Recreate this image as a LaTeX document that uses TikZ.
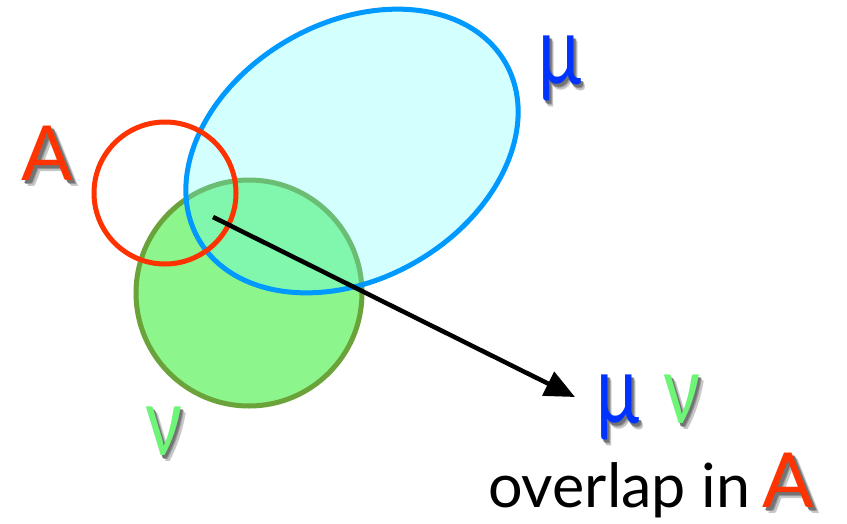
\documentclass[tikz,border=0pt]{standalone}
\usepackage{fontspec}
\setmainfont{Lato}
\usetikzlibrary{arrows.meta}
\definecolor{redA}{RGB}{255,51,0}
\definecolor{blueE}{RGB}{0,153,255}
\definecolor{cyanF}{RGB}{105,255,255}
\definecolor{greenF}{RGB}{140,245,140}
\definecolor{greenS}{RGB}{107,163,59}
\definecolor{muBlue}{RGB}{0,51,255}
\definecolor{nuGreen}{RGB}{110,245,120}
\tikzset{
  lbl/.style={inner sep=0pt, anchor=base},
  bigA/.style={font=\fontsize{76}{80}\selectfont},
  greek/.style={font=\fontsize{96}{100}\selectfont, xscale=0.75},
  plain/.style={font=\fontsize{61}{64}\selectfont, inner sep=0pt, anchor=base west},
}
\newcommand\shtxt[2]{%
  \rlap{\kern6pt\raisebox{-6pt}{\textcolor{black!22}{#2}}}%
  \rlap{\kern4.5pt\raisebox{-4.5pt}{\textcolor{black!40}{#2}}}%
  \rlap{\kern3pt\raisebox{-3pt}{\textcolor{black!55}{#2}}}%
  \textcolor{#1}{#2}}
\begin{document}
\begin{tikzpicture}[x=1pt,y=-1pt]
\useasboundingbox (0,0) rectangle (847,523);
\fill[white] (0,0) rectangle (847,523);
% nu circle
\draw[line width=5pt, draw=greenS, fill=greenF] (249,293) circle[radius=113pt];
% mu ellipse
\fill[cyanF, fill opacity=0.29, rotate around={30:(352,151)}] (352,151) ellipse[x radius=177pt, y radius=128pt];
\draw[line width=5pt, draw=blueE, rotate around={30:(352,151)}] (352,151) ellipse[x radius=177pt, y radius=128pt];
% A circle
\draw[line width=5pt, draw=redA] (165,193) circle[radius=71pt];
% arrow
\coordinate (s) at (213,217);
\coordinate (t) at (575,397);
\draw[line width=4.5pt, -{Triangle[length=30pt,width=26pt]}] (s) -- (t);
% labels
\node[lbl,bigA] (lA) at (47,180) {\shtxt{redA}{A}};
\node[lbl,greek] (lMu) at (560,84) {\shtxt{muBlue}{μ}};
\node[lbl,greek] (lNu) at (164,455) {\shtxt{nuGreen}{ν}};
\node[lbl,greek] (lMu2) at (618,423) {\shtxt{muBlue}{μ}};
\node[lbl,greek] (lNu2) at (682,423) {\shtxt{nuGreen}{ν}};
\node[plain] (ov) at (488,507) {overlap in};
\node[lbl,bigA] (lA2) at (788,507) {\shtxt{redA}{A}};
\end{tikzpicture}
\end{document}
